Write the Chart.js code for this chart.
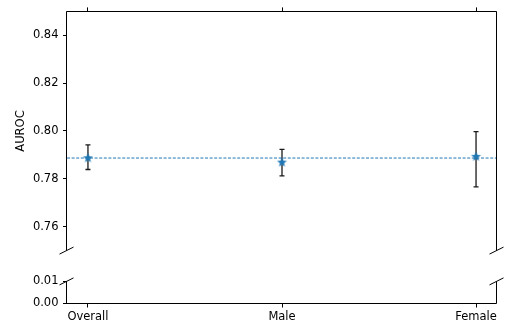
<!DOCTYPE html>
<html>
<head>
<meta charset="utf-8">
<script src="https://cdn.jsdelivr.net/npm/chart.js@4"></script>
<style>
  html, body { margin: 0; padding: 0; background: #fff; }
  #wrap { position: relative; width: 509px; height: 327px; overflow: hidden; }
  canvas { position: absolute; left: 0; }
  #top { top: 0; }
  #bottom { top: 270px; }
</style>
</head>
<body>
<div id="wrap">
  <canvas id="top" width="509" height="262"></canvas>
  <canvas id="bottom" width="509" height="57"></canvas>
</div>
<script>
const categories = ['Overall', 'Male', 'Female'];
const auroc = [0.7888, 0.7870, 0.7894];
const ciLower = [0.7839, 0.7812, 0.7766];
const ciUpper = [0.7942, 0.7923, 0.7997];
const meanAuroc = 0.7887;
const topTicks = [0.76, 0.78, 0.80, 0.82, 0.84];
const bottomTicks = [0.00, 0.01];
const xTicks = [0, 1, 2];

const blue = '#1f77b4';
const font = { family: 'DejaVu Sans', size: 11.5 };
Chart.defaults.color = '#000';
Chart.defaults.font = font;

// filled star marker like matplotlib '*'
function starImage() {
  const c = document.createElement('canvas');
  c.width = 13; c.height = 13;
  const g = c.getContext('2d');
  g.beginPath();
  for (let i = 0; i < 10; i++) {
    const r = i % 2 === 0 ? 5.2 : 2.2;
    const a = -Math.PI / 2 + i * Math.PI / 5;
    g.lineTo(6.5 + r * Math.cos(a), 6.8 + r * Math.sin(a));
  }
  g.closePath();
  g.fillStyle = blue;
  g.fill();
  return c;
}

const points = categories.map((c, i) => ({ x: i, y: auroc[i] }));

const setTicks = arr => scale => { scale.ticks = arr.map(v => ({ value: v })); };
const px = v => Math.floor(v) + 0.5;

// spines + break marks
const spines = {
  id: 'spines',
  afterDraw(chart, args, opts) {
    const { ctx, chartArea: a } = chart;
    const l = px(a.left - 0.5), r = px(a.right - 0.5);
    ctx.save();
    ctx.strokeStyle = '#000';
    ctx.lineWidth = 1;
    ctx.beginPath();
    ctx.moveTo(l, a.top); ctx.lineTo(l, a.bottom);
    ctx.moveTo(r, a.top); ctx.lineTo(r, a.bottom);
    if (opts.top) { ctx.moveTo(l, px(a.top)); ctx.lineTo(r, px(a.top)); }
    if (opts.bottom) { ctx.moveTo(l, px(a.bottom - 0.5)); ctx.lineTo(r, px(a.bottom - 0.5)); }
    ctx.stroke();
    const y = opts.breakAt === 'bottom' ? a.bottom : a.top;
    ctx.beginPath();
    [l, r].forEach(x => {
      ctx.moveTo(x - 7, y + 3.5); ctx.lineTo(x + 7, y - 3.5);
    });
    ctx.stroke();
    ctx.restore();
  }
};

// mean line + error bars
const errorBars = {
  id: 'errorBars',
  beforeDatasetsDraw(chart) {
    const { ctx, chartArea: a, scales: { x, y } } = chart;
    ctx.save();
    ctx.beginPath();
    ctx.rect(a.left, a.top, a.right - a.left, a.bottom - a.top);
    ctx.clip();
    const ym = y.getPixelForValue(meanAuroc);
    ctx.strokeStyle = blue;
    ctx.lineWidth = 1;
    ctx.setLineDash([3, 1.6]);
    ctx.beginPath();
    ctx.moveTo(a.left, ym); ctx.lineTo(a.right, ym);
    ctx.stroke();
    ctx.setLineDash([]);
    ctx.strokeStyle = '#1a1a1a';
    ctx.lineWidth = 1.3;
    ctx.beginPath();
    categories.forEach((c, i) => {
      const cx = x.getPixelForValue(i);
      const lo = y.getPixelForValue(ciLower[i]);
      const hi = y.getPixelForValue(ciUpper[i]);
      ctx.moveTo(cx, lo); ctx.lineTo(cx, hi);
      ctx.moveTo(cx - 2.5, lo); ctx.lineTo(cx + 2.5, lo);
      ctx.moveTo(cx - 2.5, hi); ctx.lineTo(cx + 2.5, hi);
    });
    ctx.stroke();
    ctx.restore();
  }
};

const tickGrid = { display: true, drawOnChartArea: false, drawTicks: true, tickLength: 4, tickColor: '#000', tickWidth: 1 };

function xScale(position, showLabels, height) {
  return {
    type: 'linear',
    position: position,
    min: -0.108,
    max: 2.108,
    afterBuildTicks: setTicks(xTicks),
    afterFit: s => { s.height = height; },
    grid: tickGrid,
    border: { display: false },
    ticks: {
      display: showLabels,
      autoSkip: false,
      maxRotation: 0,
      padding: 3,
      callback: v => categories[v]
    }
  };
}

function yScale(min, max, ticks, title) {
  return {
    min: min,
    max: max,
    afterBuildTicks: setTicks(ticks),
    afterFit: s => { s.width = 67; },
    grid: tickGrid,
    border: { display: false },
    ticks: { padding: 4.5, callback: v => v.toFixed(2) },
    title: title ? { display: true, text: title, font: font, padding: { top: 14.5, bottom: 0 } } : { display: false }
  };
}

const star = starImage();

new Chart(document.getElementById('top'), {
  type: 'scatter',
  data: {
    datasets: [{
      data: points,
      pointStyle: star,
      pointRadius: 5,
      backgroundColor: blue,
      borderColor: blue
    }]
  },
  options: {
    responsive: false,
    animation: false,
    devicePixelRatio: 1,
    layout: { padding: { left: 0, right: 12, top: 0, bottom: 9 } },
    plugins: { legend: { display: false }, tooltip: { enabled: false }, spines: { top: true, breakAt: 'bottom' } },
    scales: {
      x: xScale('top', false, 11),
      y: yScale(0.75, 0.85, topTicks, 'AUROC')
    }
  },
  plugins: [errorBars, spines]
});

new Chart(document.getElementById('bottom'), {
  type: 'scatter',
  data: {
    datasets: [{ data: points, pointStyle: star, pointRadius: 5 }]
  },
  options: {
    responsive: false,
    animation: false,
    devicePixelRatio: 1,
    layout: { padding: { left: 0, right: 12, top: 10, bottom: 0 } },
    plugins: { legend: { display: false }, tooltip: { enabled: false }, spines: { bottom: true, breakAt: 'top' } },
    scales: {
      x: xScale('bottom', true, 23.5),
      y: yScale(0, 0.01, bottomTicks, null)
    }
  },
  plugins: [spines]
});
</script>
</body>
</html>
